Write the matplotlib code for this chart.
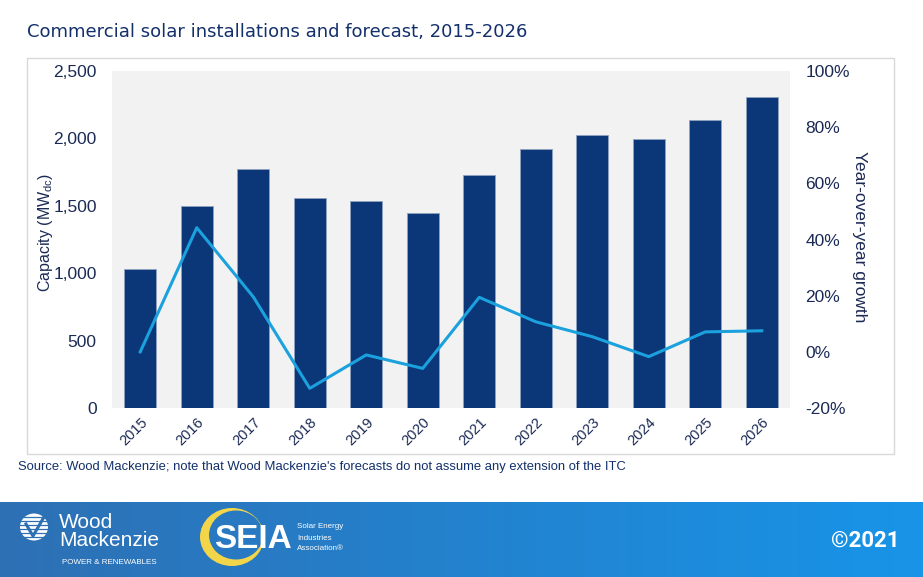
import matplotlib
matplotlib.use("Agg")
import matplotlib.pyplot as plt
import matplotlib.transforms as mtransforms
import numpy as np
from matplotlib.patches import Rectangle, Ellipse
from matplotlib.ticker import FuncFormatter, MultipleLocator

years = ["2015", "2016", "2017", "2018", "2019", "2020", "2021", "2022", "2023", "2024", "2025", "2026"]
capacity_mw = [1031, 1496, 1771, 1556, 1538, 1449, 1726, 1919, 2023, 1993, 2137, 2305]
growth_pct = [0.0, 44.2, 19.6, -13.0, -1.1, -5.9, 19.4, 10.7, 5.4, -1.7, 7.1, 7.5]

plt.rcParams["font.family"] = ["Liberation Sans", "DejaVu Sans"]

NAVY = "#1B2A55"
BAR = "#0B3677"
LINE = "#1BA1DE"

W, H = 923, 577
fig = plt.figure(figsize=(W / 100, H / 100), dpi=100)
fig.patch.set_facecolor("white")

def fx(px):
    return px / W

def fy(py):
    return 1 - py / H

frame = Rectangle((fx(27), fy(454)), fx(894) - fx(27), fy(58) - fy(454),
                  transform=fig.transFigure, fill=False, edgecolor="#D9D9D9", lw=1)
fig.patches.append(frame)

fig.text(fx(27), fy(32), "Commercial solar installations and forecast, 2015-2026",
         color="#13306B", fontsize=13, family="DejaVu Sans", va="center", ha="left")

ax = fig.add_axes([fx(112), fy(408), fx(790) - fx(112), fy(71) - fy(408)])
ax.set_facecolor("#F2F2F2")
x = np.arange(len(years))
ax.bar(x, capacity_mw, width=0.56, color=BAR, edgecolor="#8FA3C0", linewidth=0.6, zorder=2)
ax.set_xlim(-0.5, len(years) - 0.5)
ax.set_ylim(0, 2500)
ax.yaxis.set_major_locator(MultipleLocator(500))
ax.yaxis.set_major_formatter(FuncFormatter(lambda v, p: f"{int(v):,}"))
ax.set_xticks(x)
ax.set_xticklabels(years, rotation=45, ha="right", rotation_mode="anchor")
shift = mtransforms.ScaledTranslation(-4 / 100, 0, fig.dpi_scale_trans)
for lab in ax.get_xticklabels():
    lab.set_transform(lab.get_transform() + shift)
for s in ax.spines.values():
    s.set_visible(False)
ax.tick_params(axis="both", length=0, colors=NAVY)
ax.tick_params(axis="y", labelsize=12.5, pad=11)
ax.tick_params(axis="x", labelsize=10.5, pad=5)
ax.set_ylabel(r"Capacity (MW$_{\mathregular{dc}}$)", color=NAVY, fontsize=11.5)
ax.yaxis.set_label_coords(-0.084, 0.522)

ax2 = ax.twinx()
ax2.plot(x, growth_pct, color=LINE, lw=2.2, zorder=3)
ax2.set_ylim(-20, 100)
ax2.yaxis.set_major_locator(MultipleLocator(20))
ax2.yaxis.set_major_formatter(FuncFormatter(lambda v, p: f"{int(round(v))}%"))
for s in ax2.spines.values():
    s.set_visible(False)
ax2.tick_params(axis="y", length=0, colors=NAVY, labelsize=12.5, pad=11)
ax2.set_ylabel("Year-over-year growth", color=NAVY, fontsize=12.5, rotation=270, va="center")
ax2.yaxis.set_label_coords(1.102, 0.507)

fig.text(fx(18), fy(467), "Source: Wood Mackenzie; note that Wood Mackenzie's forecasts do not assume any extension of the ITC",
         color="#13306B", fontsize=9.4, va="center", ha="left")

# footer gradient
fax = fig.add_axes([0, 0, 1, fy(502)])
grad = np.linspace(0, 1, 256).reshape(1, -1)
c1 = np.array([0x2E, 0x70, 0xB4]) / 255
c2 = np.array([0x18, 0x94, 0xE8]) / 255
img = (c1[None, None, :] * (1 - grad[..., None]) + c2[None, None, :] * grad[..., None])
fax.imshow(img, aspect="auto", extent=[0, 1, 0, 1])
fax.set_xlim(0, 1)
fax.set_ylim(0, 1)
fax.axis("off")

fh = H - 502
def ly(py):
    return (H - py) / fh

# Wood Mackenzie emblem
circ = Ellipse((fx(34), ly(527)), fx(28), 27 / fh, facecolor="white", edgecolor="none",
               transform=fax.transAxes)
fax.add_patch(circ)
for k in range(6):
    fax.plot([fx(20), fx(48)], [ly(517 + k * 4)] * 2, color="#2E70B4", lw=0.9, transform=fax.transAxes)
fax.plot([fx(26), fx(33), fx(44)], [ly(524), ly(536), ly(517)], color="#2E70B4", lw=2.2,
         transform=fax.transAxes)
fax.text(fx(59), ly(522), "Wood", color="white", fontsize=15,
         va="center", ha="left", transform=fax.transAxes)
fax.text(fx(59), ly(540), "Mackenzie", color="white", fontsize=15,
         va="center", ha="left", transform=fax.transAxes)
fax.text(fx(62), ly(562), "POWER & RENEWABLES", color="white", fontsize=5.8,
         va="center", ha="left", transform=fax.transAxes)

# SEIA emblem: yellow crescent
bg = c1 * (1 - 232 / W) + c2 * (232 / W)
outer = Ellipse((fx(232), ly(537)), fx(64), 58 / fh, facecolor="#F3D54A", edgecolor="none",
                transform=fax.transAxes)
inner = Ellipse((fx(236), ly(535)), fx(54), 49 / fh, facecolor=bg, edgecolor="none",
                transform=fax.transAxes)
fax.add_patch(outer)
fax.add_patch(inner)
fax.text(fx(214), ly(540), "SEIA", color="white", fontsize=24, fontweight="bold",
         va="center", ha="left", transform=fax.transAxes)
fax.text(fx(297), ly(527), "Solar Energy", color="white", fontsize=5.8,
         va="center", ha="left", transform=fax.transAxes)
fax.text(fx(297), ly(538), "Industries", color="white", fontsize=5.8,
         va="center", ha="left", transform=fax.transAxes)
fax.text(fx(297), ly(549), "Association\u00ae", color="white", fontsize=5.8,
         va="center", ha="left", transform=fax.transAxes)

fax.text(fx(900), ly(541), "\u00a92021", color="white", fontsize=16, fontweight="bold",
         family="Roboto", va="center", ha="right", transform=fax.transAxes)

fig.savefig("out.png", dpi=100)
